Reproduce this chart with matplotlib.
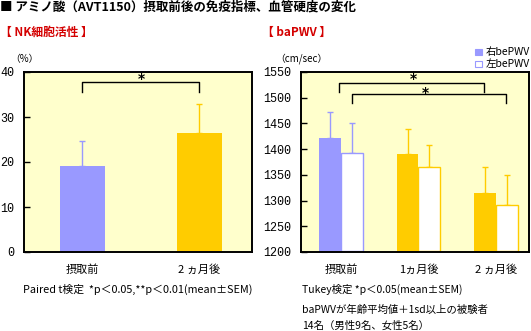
import matplotlib
matplotlib.use("Agg")
import matplotlib.pyplot as plt
from matplotlib.patches import Rectangle
from matplotlib.transforms import offset_copy

plt.rcParams["font.family"] = ["Noto Sans CJK JP", "DejaVu Sans"]

BLUE = "#9999FF"
GOLD = "#FFCC00"
PANEL_BG = "#FFFFCC"
RED = "#D40000"

# NK cell activity (%)
nk_labels = ["摂取前", "2 ヵ月後"]
nk_mean = [19.2, 26.5]
nk_sem = [5.5, 6.4]

# baPWV (cm/sec)
pwv_labels = ["摂取前", "1ヵ月後", "2 ヵ月後"]
pwv_right_mean = [1422, 1391, 1315]
pwv_right_sem = [50, 49, 50]
pwv_left_mean = [1392, 1365, 1291]
pwv_left_sem = [58, 44, 58]

W, H = 531, 331
fig = plt.figure(figsize=(W / 100, H / 100), dpi=100)


def px_axes(x0, y0, x1, y1):
    return fig.add_axes([x0 / W, 1 - y1 / H, (x1 - x0) / W, (y1 - y0) / H])


def style_axes(ax):
    ax.set_facecolor(PANEL_BG)
    for s in ax.spines.values():
        s.set_linewidth(1.4)
        s.set_color("black")
    ax.tick_params(axis="y", direction="in", length=4, width=1, pad=7)
    ax.tick_params(axis="x", length=0, pad=9, labelsize=8)
    for lab in ax.get_yticklabels():
        lab.set_family("Liberation Mono")
        lab.set_fontsize(8.5)


def bracket(ax, x1, x2, y, drop, star_x, star_y):
    ax.plot([x1, x1, x2, x2], [y - drop, y, y, y - drop], color="black", lw=1.0)
    tr = offset_copy(ax.transData, fig=fig, x=0, y=-2, units="dots")
    ax.text(star_x, star_y, "*", ha="center", va="center", fontsize=10,
            fontweight="bold", family="DejaVu Sans", transform=tr)


# ---- left panel: NK cell activity
ax1 = px_axes(24, 72, 252, 252)
nk_x = list(range(len(nk_mean)))
nk_colors = [BLUE, GOLD]
ax1.bar(nk_x, nk_mean, width=0.39, color=nk_colors, zorder=2)
for x, m, e, c in zip(nk_x, nk_mean, nk_sem, nk_colors):
    ax1.errorbar(x, m, yerr=[[0], [e]], color=c, capsize=2.5, lw=1,
                 capthick=1, zorder=1)
ax1.set_xlim(-0.5, 1.45)
ax1.set_ylim(0, 40)
ax1.set_yticks([0, 10, 20, 30, 40])
ax1.set_xticks(nk_x)
ax1.set_xticklabels(nk_labels)
style_axes(ax1)
bracket(ax1, 0, 1, 37.7, 2.2, 0.5, 38.9)

# ---- right panel: baPWV
ax2 = px_axes(301, 72, 529, 252)
pwv_x = list(range(len(pwv_labels)))
bw = 0.284
group_colors = [BLUE, GOLD, GOLD]
for x, m, e, c in zip(pwv_x, pwv_right_mean, pwv_right_sem, group_colors):
    ax2.bar(x - bw / 2, m - 1200, bottom=1200, width=bw, color=c, zorder=2)
    ax2.errorbar(x - bw / 2, m, yerr=[[0], [e]], color=c, capsize=2.5, lw=1,
                 capthick=1, zorder=1)
for x, m, e, c in zip(pwv_x, pwv_left_mean, pwv_left_sem, group_colors):
    ax2.bar(x + bw / 2, m - 1202, bottom=1202, width=bw, color="white",
            edgecolor=c, linewidth=1, zorder=2)
    ax2.errorbar(x + bw / 2, m, yerr=[[0], [e]], color=c, capsize=2.5, lw=1,
                 capthick=1, zorder=1)
ax2.set_xlim(-0.52, 2.43)
ax2.set_ylim(1200, 1550)
ax2.set_yticks(range(1200, 1551, 50))
ax2.set_xticks(pwv_x)
ax2.set_xticklabels(pwv_labels)
style_axes(ax2)
bracket(ax2, -0.03, 1.85, 1528, 17, 0.94, 1540)
bracket(ax2, 0.14, 2.13, 1507, 18, 1.09, 1514)

# ---- legend (manual, sits above the panel)
fig.patches.append(Rectangle((475 / W, 1 - 55 / H), 7 / W, 6 / H,
                             transform=fig.transFigure, facecolor=BLUE,
                             edgecolor=BLUE, lw=0.8))
fig.patches.append(Rectangle((475 / W, 1 - 67 / H), 7 / W, 6 / H,
                             transform=fig.transFigure, facecolor="white",
                             edgecolor=BLUE, lw=0.8))
fig.text(486 / W, 1 - 52 / H, "右bePWV", fontsize=7.5, va="center")
fig.text(486 / W, 1 - 64 / H, "左bePWV", fontsize=7.5, va="center")

# ---- titles and notes
fig.text(0, 1 - 7 / H, "■ アミノ酸（AVT1150）摂取前後の免疫指標、血管硬度の変化",
         fontsize=9, fontweight="bold", va="center")
fig.text(0, 1 - 32 / H, "【 NK細胞活性 】", fontsize=8.5, fontweight="bold",
         color=RED, va="center")
fig.text(262 / W, 1 - 32 / H, "【 baPWV 】", fontsize=8.5, fontweight="bold",
         color=RED, va="center")
fig.text(10 / W, 1 - 59 / H, "（%）", fontsize=7, va="center")
fig.text(275 / W, 1 - 59 / H, "（cm/sec）", fontsize=7, va="center")
fig.text(23 / W, 1 - 289 / H, "Paired t検定  *p＜0.05,**p＜0.01(mean±SEM)",
         fontsize=7.8, va="center")
fig.text(302 / W, 1 - 289 / H, "Tukey検定 *p＜0.05(mean±SEM)",
         fontsize=7.5, va="center")
fig.text(302 / W, 1 - 310 / H, "baPWVが年齢平均値＋1sd以上の被験者",
         fontsize=7.5, va="center")
fig.text(302 / W, 1 - 326 / H, "14名（男性9名、女性5名）",
         fontsize=7.5, va="center")

fig.savefig("out.png", dpi=100, facecolor="white")
